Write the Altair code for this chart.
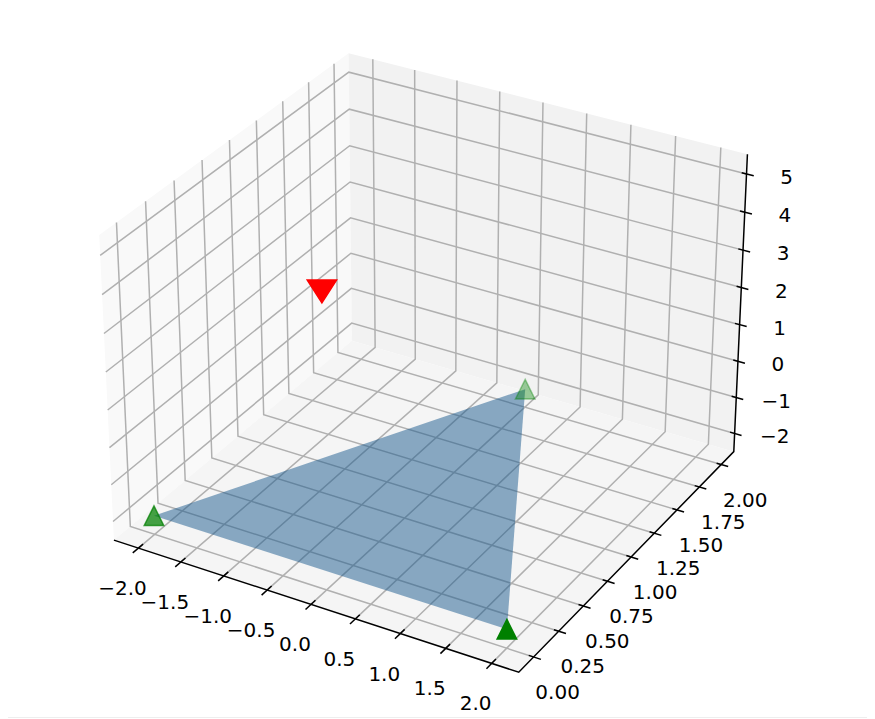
import numpy as np
import pandas as pd
import altair as alt

x_ticks = [-2.0, -1.5, -1.0, -0.5, 0.0, 0.5, 1.0, 1.5, 2.0]
y_ticks = [0.0, 0.25, 0.5, 0.75, 1.0, 1.25, 1.5, 1.75, 2.0]
z_ticks = [-2, -1, 0, 1, 2, 3, 4, 5]
XL = (-2.2917, 2.2917)
YL = (-0.1458, 2.1458)
ZL = (-2.5104, 5.5104)
triangle_pts = [(-2, 0, -2), (2, 0, -2), (0, 2, -2)]
apex_pt = (-0.1, 0.08, 5)
green_alpha = [0.72, 1.0, 0.38]

W, H = 859, 711
ax, bx, ay, by = 3895.480, 429.583, -3893.591, 347.803


def proj(p):
    el, az = np.radians(30), np.radians(-60)
    asp = np.array([4.0, 4.0, 3.0])
    box = asp * 1.8294640721620434 * 25 / 24 / np.linalg.norm(asp)
    w = np.array([(p[0] - XL[0]) / (XL[1] - XL[0]), (p[1] - YL[0]) / (YL[1] - YL[0]), (p[2] - ZL[0]) / (ZL[1] - ZL[0])]) * box
    R = box / 2
    ed = np.array([np.cos(el) * np.cos(az), np.cos(el) * np.sin(az), np.sin(el)])
    eye = R + 10 * ed
    n = ed
    u = np.cross([0, 0, 1], n)
    u = u / np.linalg.norm(u)
    v = np.cross(n, u)
    d = w - eye
    zz = -np.dot(n, d)
    return float(np.dot(u, d) / zz), float(np.dot(v, d) / zz)


xdom = [(8 - bx) / ax, (8 + W - bx) / ax]
ydom = [(8 - by) / ay, (8 + H - by) / ay]
xs = alt.Scale(domain=xdom, range=[0, W], nice=False, zero=False)
ys = alt.Scale(domain=ydom, range=[0, H], nice=False, zero=False)


def frame(polys):
    rows = []
    for k, poly in enumerate(polys):
        for i, p in enumerate(poly):
            a, b = proj(p)
            rows.append({"id": k, "i": i, "px": a, "py": b})
    return pd.DataFrame(rows)


def lines(polys, color, width):
    return alt.Chart(frame(polys)).mark_line(color=color, strokeWidth=width, clip=False).encode(
        x=alt.X("px:Q", scale=xs, axis=None), y=alt.Y("py:Q", scale=ys, axis=None),
        detail="id:N", order="i:Q")


def fill(poly, color, opacity=1.0):
    return alt.Chart(frame([poly])).mark_line(fill=color, stroke=None, fillOpacity=opacity, strokeWidth=0).encode(
        x=alt.X("px:Q", scale=xs, axis=None), y=alt.Y("py:Q", scale=ys, axis=None), order="i:Q")


x0, x1 = XL
y0, y1 = YL
z0, z1 = ZL
layers = [
    fill([(x0, y0, z0), (x0, y1, z0), (x0, y1, z1), (x0, y0, z1)], "#f9f9f9"),
    fill([(x0, y1, z0), (x1, y1, z0), (x1, y1, z1), (x0, y1, z1)], "#f2f2f2"),
    fill([(x0, y0, z0), (x1, y0, z0), (x1, y1, z0), (x0, y1, z0)], "#f5f5f5"),
]
grid = [[(t, y0, z0), (t, y1, z0), (t, y1, z1)] for t in x_ticks]
grid += [[(x0, t, z1), (x0, t, z0), (x1, t, z0)] for t in y_ticks]
grid += [[(x0, y0, t), (x0, y1, t), (x1, y1, t)] for t in z_ticks]
layers.append(lines(grid, "#b0b0b0", 1.5))
layers.append(lines([[(x0, y0, z0), (x1, y0, z0), (x1, y1, z0), (x1, y1, z1)]], "#000000", 1.5))
dx_, dy_ = x1 - x0, y1 - y0
ticks = [[(t, y0 + 0.018 * dy_, z0), (t, y0 - 0.022 * dy_, z0)] for t in x_ticks]
ticks += [[(x1 - 0.0115 * dx_, t, z0), (x1 + 0.0172 * dx_, t, z0)] for t in y_ticks]
ticks += [[(x1 - 0.0115 * dx_, y1, t), (x1 + 0.0172 * dx_, y1, t)] for t in z_ticks]
layers.append(lines(ticks, "#000000", 1.5))
layers.append(fill(triangle_pts, "#1a5a8e", 0.5))


def fmt(v, d):
    return f"{v:.{d}f}".replace("-", "\u2212")


def labels(pts, texts, dx, dy):
    rows = [{"px": proj(p)[0], "py": proj(p)[1], "t": s} for p, s in zip(pts, texts)]
    return alt.Chart(pd.DataFrame(rows)).mark_text(font="DejaVu Sans", fontSize=20, color="#000000", align="center", baseline="middle", dx=dx, dy=dy).encode(
        x=alt.X("px:Q", scale=xs, axis=None), y=alt.Y("py:Q", scale=ys, axis=None), text="t:N")


layers.append(labels([(t, y0, z0) for t in x_ticks], [fmt(t, 1) for t in x_ticks], -16, 41))
layers.append(labels([(x1, t, z0) for t in y_ticks], [fmt(t, 2) for t in y_ticks], 24, 36))
layers.append(labels([(x1, y1, t) for t in z_ticks], [fmt(t, 0) for t in z_ticks], 40, 4))

UP = "M0,-1L1,1L-1,1Z"
for p, a in zip(triangle_pts, green_alpha):
    m = alt.Chart(frame([[p]])).mark_point(shape=UP, size=380, filled=True, color="green", fillOpacity=a, strokeOpacity=a, stroke="green", strokeWidth=1.5, opacity=1).encode(
        x=alt.X("px:Q", scale=xs, axis=None), y=alt.Y("py:Q", scale=ys, axis=None))
    layers.append(m)
layers.append(alt.Chart(frame([[apex_pt]])).mark_point(shape="M-1,-0.78L1,-0.78L0,0.78Z", size=860, filled=True, color="red", stroke="red", strokeWidth=1.5, opacity=1).encode(
    x=alt.X("px:Q", scale=xs, axis=None), y=alt.Y("py:Q", scale=ys, axis=None)))
layers.append(alt.Chart(pd.DataFrame({"a": [0]})).mark_rule(color="#eeeeee", strokeWidth=1).encode(
    x=alt.value(0), x2=alt.value(W), y=alt.value(709.5)))

chart = alt.layer(*layers).properties(width=W, height=H, padding=0, autosize=alt.AutoSizeParams(type="none")).configure_view(stroke=None)
chart.save("out.html", embed_options={"renderer": "svg", "actions": False})
